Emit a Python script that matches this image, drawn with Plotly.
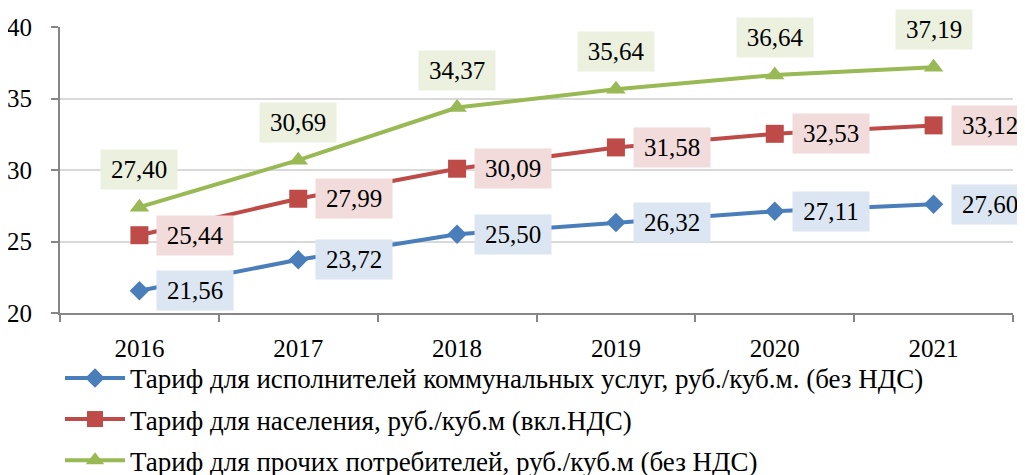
import plotly.graph_objects as go

years = ["2016", "2017", "2018", "2019", "2020", "2021"]
s_blue = [21.56, 23.72, 25.50, 26.32, 27.11, 27.60]
s_red = [25.44, 27.99, 30.09, 31.58, 32.53, 33.12]
s_green = [27.40, 30.69, 34.37, 35.64, 36.64, 37.19]
names = [
    "Тариф для исполнителей коммунальных услуг, руб./куб.м. (без НДС)",
    "Тариф для населения, руб./куб.м (вкл.НДС)",
    "Тариф для прочих потребителей, руб./куб.м (без НДС)",
]
y_ticks = [20, 25, 30, 35, 40]

FONT = "Liberation Serif"
colors = ["#4A7EBB", "#BE4B48", "#98B954"]
bgs = ["#DCE6F2", "#F2DCDB", "#EBF1DE"]
symbols = ["diamond", "square", "triangle-up"]
sizes = [15, 18, 17]
series = [s_blue, s_red, s_green]

fig = go.Figure()
for i, (vals, nm) in enumerate(zip(series, names)):
    fig.add_trace(go.Scatter(
        x=years, y=vals, name=nm, mode="lines+markers",
        line=dict(color=colors[i], width=4),
        marker=dict(symbol=symbols[i], size=sizes[i], color=colors[i]),
        legendgroup=str(i),
    ))

def fmt(v):
    return f"{v:.2f}".replace(".", ",")

for i, vals in enumerate(series):
    for xi, v in enumerate(vals):
        common = dict(
            x=xi, y=v, xref="x", yref="y", text=fmt(v), showarrow=False,
            bgcolor=bgs[i], borderpad=6, width=64, height=27,
            font=dict(family=FONT, size=25, color="black"),
        )
        if i == 2:
            fig.add_annotation(xanchor="center", yanchor="bottom", yshift=17, **common)
        else:
            fig.add_annotation(xanchor="left", yanchor="middle", xshift=17, **common)

fig.update_layout(
    template="none",
    width=1025, height=500,
    margin=dict(l=52, r=20, t=19, b=195),
    paper_bgcolor="white", plot_bgcolor="white",
    font=dict(family=FONT, size=25, color="black"),
    showlegend=True,
    legend=dict(
        orientation="v", x=0.0, y=-0.143, xanchor="left", yanchor="top",
        xref="paper", yref="paper",
        font=dict(family=FONT, size=27, color="black"),
        itemwidth=60, tracegroupgap=3, bgcolor="rgba(0,0,0,0)",
    ),
    xaxis=dict(
        type="category", range=[-0.5, 5.5], automargin=False,
        showline=True, linecolor="#868686", linewidth=2,
        ticks="outside", tickson="boundaries", ticklen=7, tickcolor="#868686", tickwidth=2,
        showgrid=False, zeroline=False, ticklabelstandoff=12,
        tickfont=dict(family=FONT, size=25, color="black"),
    ),
    yaxis=dict(
        range=[20, 40], tickvals=y_ticks, ticktext=[str(t) for t in y_ticks],
        automargin=False,
        showline=True, linecolor="#868686", linewidth=2,
        ticks="outside", ticklen=7, tickcolor="#868686", tickwidth=2,
        showgrid=True, gridcolor="#D9D9D9", gridwidth=2, zeroline=False,
        ticklabelstandoff=14,
        tickfont=dict(family=FONT, size=25, color="black"),
    ),
)

fig.write_html("out.html")
